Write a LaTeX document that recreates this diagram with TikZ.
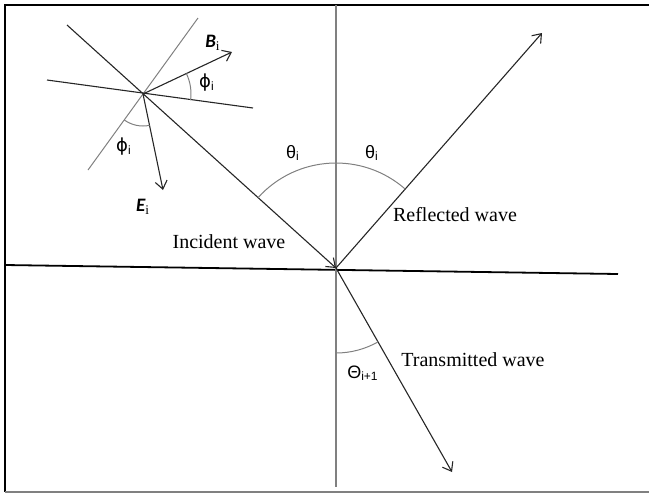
\documentclass[tikz,border=0pt]{standalone}
\usepackage{fontspec}
\setmainfont{Liberation Serif}
\newfontfamily\calfont{Carlito}
\newfontfamily\grkfont{Liberation Sans}
\newfontfamily\phifont{DejaVu Sans}
\usetikzlibrary{arrows.meta}
\definecolor{cN}{RGB}{128,128,128}

\tikzset{
    ray/.style={line width=0.55pt, black!85},
    guide/.style={line width=0.5pt, cN},
    wavelabel/.style={font=\fontsize{10}{12}\selectfont, inner sep=0pt},
    anglabel/.style={font=\grkfont\fontsize{9}{11}\selectfont, inner sep=0pt},
    vec/.style={font=\calfont\bfseries\itshape\fontsize{9.5}{11}\selectfont, inner sep=0pt}
}

\begin{document}
\begin{tikzpicture}[x=0.5pt, y=-0.5pt, >={Straight Barb[length=4pt,width=6pt]}]
    \useasboundingbox (0,0) rectangle (649,494);

    % --- frame ---
    \draw[line width=1pt] (649,5) -- (5,5) -- (5,492);
    \draw[cN, line width=0.7pt] (5,492) -- (649,492);

    % --- points ---
    \coordinate (O) at (336,268);
    \coordinate (P) at (143,94);
    \coordinate (inc) at (67,25);
    \coordinate (refl) at (542,33);
    \coordinate (trans) at (452,472);
    \coordinate (nTop) at (336,5);
    \coordinate (nBot) at (336,487);
    \coordinate (sL) at (5,265);
    \coordinate (sR) at (618,274);

    % --- interface and normal ---
    \draw[line width=0.9pt] (sL) -- (sR);
    \draw[guide, line width=0.7pt] (nTop) -- (nBot);

    % --- rays ---
    \draw[ray, ->] (inc) -- (O);
    \draw[ray, ->] (O) -- (refl);
    \draw[ray, ->] (O) -- (trans);

    % --- angles at O ---
    \draw[guide] (O) ++(-137.9:105) arc[start angle=-137.9, end angle=-48.8, radius=105];
    \draw[guide] (O) ++(60.4:85) arc[start angle=60.4, end angle=90, radius=85];
    \node[anglabel] (thI) at (293,153) {θ\textsubscript{i}};
    \node[anglabel] (thR) at (372,153) {θ\textsubscript{i}};
    \node[anglabel] (thT) at (363,373) {Θ\textsubscript{i+1}};

    % --- wave labels ---
    \node[wavelabel] (lInc) at (229,242) {Incident wave};
    \node[wavelabel] (lRefl) at (455,215) {Reflected wave};
    \node[wavelabel] (lTrans) at (473,360) {Transmitted wave};

    % --- field vectors at P ---
    \coordinate (a1) at (198,18);
    \coordinate (a2) at (88,170);
    \coordinate (b1) at (47,80);
    \coordinate (b2) at (253,108);
    \coordinate (Bt) at (232,52);
    \coordinate (Et) at (163,190);
    \draw[guide] (a1) -- (a2);
    \draw[ray] (b1) -- (b2);
    \draw[ray, ->] (P) -- (Bt);
    \draw[ray, ->] (P) -- (Et);
    \draw[guide] (P) ++(-25.3:48) arc[start angle=-25.3, end angle=7.3, radius=48];
    \draw[guide] (P) ++(78.2:32) arc[start angle=78.2, end angle=125.9, radius=32];
    \node[anglabel] (phB) at (207,83) {{\phifont ϕ}\textsubscript{i}};
    \node[anglabel] (phE) at (124,147) {{\phifont ϕ}\textsubscript{i}};
    \node[vec] (lB) at (213,43) {B\textsubscript{\normalfont i}};
    \node[vec] (lE) at (143,207) {E\textsubscript{\normalfont i}};

\end{tikzpicture}
\end{document}
